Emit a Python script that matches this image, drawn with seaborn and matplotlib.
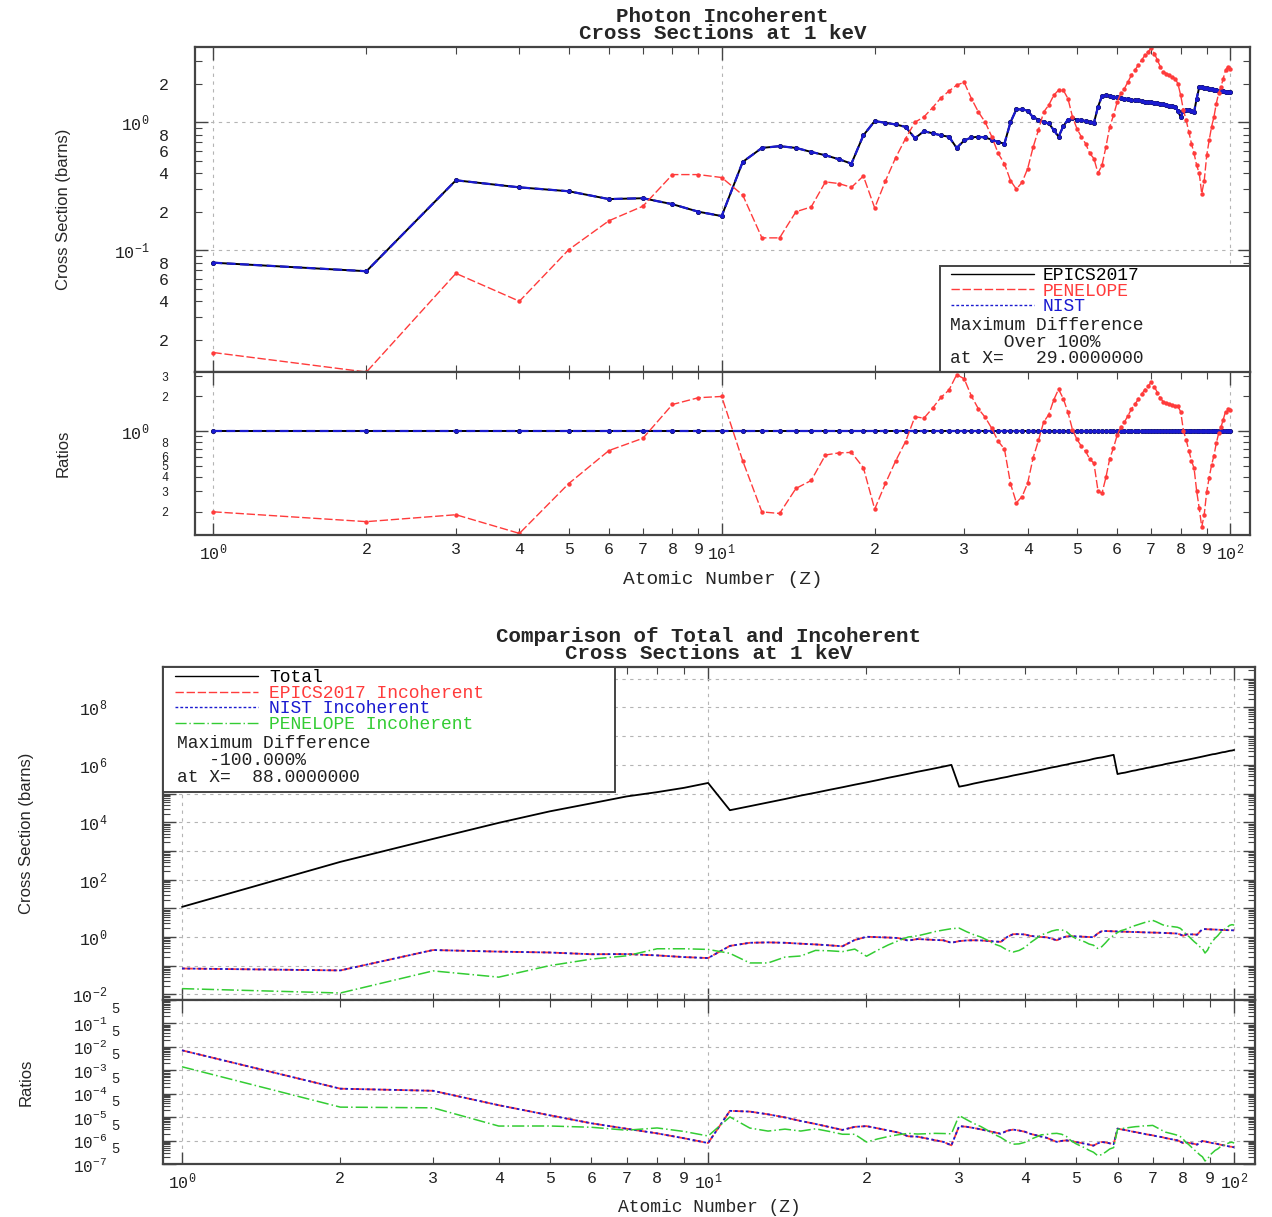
import numpy as np
import pandas as pd
import matplotlib
matplotlib.use('Agg')
import matplotlib.pyplot as plt
import seaborn as sns
from matplotlib.ticker import LogLocator, FuncFormatter, NullFormatter
from matplotlib.lines import Line2D
from matplotlib.patches import Rectangle

# atomic numbers
z = list(range(1, 101))

# incoherent cross sections at 1 keV (barns)
epics_incoh = [0.080, 0.0686, 0.352, 0.31, 0.289, 0.251, 0.255, 0.229, 0.200, 0.185,
               0.49, 0.63, 0.65, 0.63, 0.586, 0.552, 0.514, 0.475, 0.79, 1.02,
               0.99, 0.96, 0.92, 0.75, 0.85, 0.82, 0.79, 0.77, 0.63, 0.72,
               0.76, 0.77, 0.76, 0.73, 0.70, 0.68, 1.00, 1.26, 1.26, 1.23,
               1.09, 1.05, 1.00, 0.98, 0.87, 0.77, 0.93, 1.05, 1.07, 1.05,
               1.04, 1.02, 1.00, 0.99, 1.32, 1.60, 1.62, 1.60, 1.58, 1.56,
               1.55, 1.53, 1.52, 1.50, 1.49, 1.48, 1.46, 1.45, 1.44, 1.43,
               1.42, 1.41, 1.40, 1.38, 1.37, 1.35, 1.34, 1.32, 1.22, 1.10,
               1.23, 1.24, 1.24, 1.23, 1.20, 1.53, 1.87, 1.89, 1.86, 1.85,
               1.83, 1.82, 1.80, 1.78, 1.76, 1.75, 1.74, 1.73, 1.72, 1.71]
nist_incoh = list(epics_incoh)   # identical to EPICS on the plot
penelope_incoh = [0.0159, 0.0112, 0.066, 0.040, 0.101, 0.17, 0.221, 0.39, 0.39, 0.37,
                  0.27, 0.125, 0.125, 0.20, 0.218, 0.342, 0.332, 0.31, 0.38, 0.214,
                  0.348, 0.53, 0.745, 1.00, 1.10, 1.30, 1.55, 1.75, 1.95, 2.05,
                  1.53, 1.20, 1.00, 0.77, 0.57, 0.475, 0.35, 0.30, 0.34, 0.435,
                  0.64, 0.87, 1.20, 1.36, 1.62, 1.78, 1.78, 1.53, 1.10, 0.89,
                  0.77, 0.68, 0.57, 0.52, 0.40, 0.46, 0.64, 0.92, 1.13, 1.44,
                  1.68, 1.83, 2.07, 2.33, 2.55, 2.79, 3.05, 3.33, 3.54, 3.80,
                  3.44, 3.05, 2.70, 2.47, 2.40, 2.33, 2.26, 2.19, 2.00, 1.62,
                  1.24, 1.04, 0.84, 0.68, 0.57, 0.46, 0.40, 0.277, 0.35, 0.55,
                  0.72, 0.92, 1.10, 1.40, 1.68, 1.89, 2.19, 2.55, 2.70, 2.60]

# total cross section, log10(barns)
total_log10 = [1.05, 2.62, 3.42, 3.98, 4.38, 4.66, 4.90, 5.05, 5.20, 5.37,
               4.42, 4.56, 4.69, 4.81, 4.93, 5.03, 5.13, 5.22, 5.31, 5.39,
               5.47, 5.55, 5.62, 5.69, 5.76, 5.82, 5.88, 5.94, 6.00, 5.24,
               5.29, 5.35, 5.40, 5.45, 5.49, 5.54, 5.58, 5.63, 5.67, 5.71,
               5.75, 5.79, 5.83, 5.87, 5.91, 5.94, 5.98, 6.01, 6.05, 6.08,
               6.11, 6.14, 6.17, 6.21, 6.24, 6.26, 6.29, 6.32, 6.35, 5.68,
               5.71, 5.73, 5.76, 5.79, 5.81, 5.84, 5.86, 5.89, 5.91, 5.93,
               5.96, 5.98, 6.00, 6.03, 6.05, 6.07, 6.09, 6.11, 6.13, 6.15,
               6.17, 6.19, 6.21, 6.23, 6.25, 6.27, 6.29, 6.31, 6.33, 6.35,
               6.37, 6.38, 6.40, 6.42, 6.44, 6.45, 6.47, 6.49, 6.50, 6.52]

df = pd.DataFrame({'Z': z, 'epics': epics_incoh, 'nist': nist_incoh,
                   'penelope': penelope_incoh})
df['total'] = 10.0 ** np.array(total_log10)
df['r_epics'] = df['epics'] / df['epics']
df['r_nist'] = df['nist'] / df['epics']
df['r_pen'] = df['penelope'] / df['epics']
df['t_epics'] = df['epics'] / df['total']
df['t_nist'] = df['nist'] / df['total']
df['t_pen'] = df['penelope'] / df['total']

sns.set_style('ticks')
plt.rcParams['font.family'] = ['Liberation Mono', 'DejaVu Sans Mono']
plt.rcParams['mathtext.fontset'] = 'custom'
plt.rcParams['mathtext.rm'] = 'Liberation Mono'
plt.rcParams['mathtext.it'] = 'Liberation Mono:italic'
plt.rcParams['mathtext.bf'] = 'Liberation Mono:bold'

RED = '#ff3b3b'
BLUE = '#1a1ad0'
GREEN = '#33cc33'
FRAME = '#444444'
GRID = '#b4b4b4'


def dec_label(v, pos):
    e = int(round(np.log10(v)))
    return f'10$^{{{e}}}$'


def even_dec_label(v, pos):
    e = int(round(np.log10(v)))
    return f'10$^{{{e}}}$' if e % 2 == 0 else ''


def neg_dec_label(v, pos):
    e = int(round(np.log10(v)))
    return f'10$^{{{e}}}$' if e < 0 else ''


def digit_label(keep):
    def f(v, pos):
        d = int(round(v / 10 ** np.floor(np.log10(v) + 1e-9)))
        return str(d) if d in keep else ''
    return f


def base_axes(ax, xlabels):
    ax.set_xscale('log')
    ax.set_yscale('log')
    ax.set_xlim(0.92, 109.5)
    ax.xaxis.set_major_locator(LogLocator(base=10, numticks=10))
    ax.xaxis.set_minor_locator(LogLocator(base=10, subs=np.arange(2, 10), numticks=20))
    if xlabels:
        ax.xaxis.set_major_formatter(FuncFormatter(dec_label))
        ax.xaxis.set_minor_formatter(FuncFormatter(digit_label(range(2, 10))))
    else:
        ax.xaxis.set_major_formatter(NullFormatter())
        ax.xaxis.set_minor_formatter(NullFormatter())
    ax.tick_params(which='both', direction='in', top=True, right=True,
                   color=FRAME, labelsize=12, labelcolor='#222222')
    ax.tick_params(which='major', length=9, width=1.0)
    ax.tick_params(which='minor', length=5, width=0.8)
    ax.tick_params(axis='x', which='both', pad=5)
    ax.grid(which='major', linestyle=(0, (3, 4)), color=GRID, linewidth=0.8)
    for s in ax.spines.values():
        s.set_color(FRAME)
        s.set_linewidth(1.6)
    ax.set_xlabel('')
    ax.set_ylabel('')


def line(ax, y, color, ls, lw, marker=None, ms=3.5):
    sns.lineplot(data=df, x='Z', y=y, ax=ax, color=color, linestyle=ls,
                 linewidth=lw, marker=marker, markersize=ms,
                 markeredgewidth=0, sort=False, estimator=None)


fig = plt.figure(figsize=(12.72, 12.17), dpi=100)

# ---------------- top figure ----------------
ax1 = fig.add_axes([0.1533, 0.6943, 0.8294, 0.2670])
ax2 = fig.add_axes([0.1533, 0.5604, 0.8294, 0.1339])

line(ax1, 'epics', 'black', '-', 1.4, 'o', 3.6)
line(ax1, 'nist', BLUE, (0, (4, 2)), 1.6, 'o', 3.2)
line(ax1, 'penelope', RED, (0, (6, 2)), 1.0, 'o', 3.2)
base_axes(ax1, False)
ax1.set_ylim(0.0112, 3.86)
ax1.yaxis.set_major_formatter(FuncFormatter(dec_label))
ax1.yaxis.set_minor_formatter(FuncFormatter(digit_label({2, 4, 6, 8})))
ax1.tick_params(axis='y', which='major', pad=33)
ax1.tick_params(axis='y', which='minor', pad=19)
ax1.set_ylabel('Cross Section (barns)', family='Liberation Sans', fontsize=12)
ax1.yaxis.set_label_coords(-0.118, 0.5)
ax1.set_title('Photon Incoherent\nCross Sections at 1 keV', fontsize=15,
              fontweight='bold', linespacing=0.85, pad=6)

line(ax2, 'r_epics', 'black', '-', 1.4, 'o', 3.6)
line(ax2, 'r_nist', BLUE, (0, (4, 2)), 1.6, 'o', 3.2)
line(ax2, 'r_pen', RED, (0, (6, 2)), 1.0, 'o', 3.2)
base_axes(ax2, True)
ax2.set_ylim(0.125, 3.26)
ax2.yaxis.set_major_formatter(FuncFormatter(dec_label))
ax2.yaxis.set_minor_formatter(FuncFormatter(digit_label({2, 3, 4, 5, 6, 8})))
ax2.tick_params(axis='y', which='major', pad=33)
ax2.tick_params(axis='y', which='minor', pad=19, labelsize=8.5)
ax2.set_ylabel('Ratios', family='Liberation Sans', fontsize=12)
ax2.yaxis.set_label_coords(-0.118, 0.5)
ax2.set_xlabel('Atomic Number (Z)', fontsize=14, labelpad=6)

# legend box, top
ax1.add_patch(Rectangle((0.706, 0.0), 0.294, 0.326, transform=ax1.transAxes,
                        facecolor='white', edgecolor=FRAME, linewidth=1.4, zorder=8))
h_top = [Line2D([], [], color='black', lw=1.0),
         Line2D([], [], color=RED, lw=1.0, ls=(0, (6, 2))),
         Line2D([], [], color=BLUE, lw=1.0, ls=(0, (2, 1.5)))]
leg = ax1.legend(h_top, ['EPICS2017', 'PENELOPE', 'NIST'], loc='upper left',
                 bbox_to_anchor=(0.713, 0.333), frameon=False, fontsize=13,
                 handlelength=4.6, handletextpad=0.5, labelspacing=-0.1,
                 borderpad=0.2, borderaxespad=0,
                 labelcolor=['black', RED, BLUE])
leg.set_zorder(9)
for txt, yy in [('Maximum Difference', 0.142), ('     Over 100%', 0.092),
                ('at X=   29.0000000', 0.043)]:
    ax1.text(0.716, yy, txt, transform=ax1.transAxes, fontsize=13,
             va='center', ha='left', color='#222222', zorder=10)

# ---------------- bottom figure ----------------
ax3 = fig.add_axes([0.1281, 0.1783, 0.8585, 0.2736])
ax4 = fig.add_axes([0.1281, 0.0435, 0.8585, 0.1348])

line(ax3, 'total', 'black', '-', 1.3)
line(ax3, 'epics', RED, (0, (6, 2)), 1.3)
line(ax3, 'nist', BLUE, (0, (1.5, 1.5)), 1.3)
line(ax3, 'penelope', GREEN, (0, (8, 2, 1, 2)), 1.1)
base_axes(ax3, False)
ax3.set_ylim(10 ** -2.195, 10 ** 9.41)
ax3.yaxis.set_major_locator(LogLocator(base=10, numticks=30))
ax3.yaxis.set_minor_locator(LogLocator(base=10, subs=np.arange(2, 10), numticks=30))
ax3.yaxis.set_major_formatter(FuncFormatter(even_dec_label))
ax3.yaxis.set_minor_formatter(NullFormatter())
ax3.tick_params(axis='y', which='both', pad=40)
ax3.set_ylabel('Cross Section (barns)', family='Liberation Sans', fontsize=12)
ax3.yaxis.set_label_coords(-0.118, 0.5)
ax3.set_title('Comparison of Total and Incoherent\nCross Sections at 1 keV',
              fontsize=15, fontweight='bold', linespacing=0.85, pad=6)

line(ax4, 't_epics', RED, (0, (6, 2)), 1.3)
line(ax4, 't_nist', BLUE, (0, (1.5, 1.5)), 1.3)
line(ax4, 't_pen', GREEN, (0, (8, 2, 1, 2)), 1.1)
base_axes(ax4, True)
ax4.set_ylim(1e-7, 1.0)
ax4.yaxis.set_major_locator(LogLocator(base=10, numticks=30))
ax4.yaxis.set_minor_locator(LogLocator(base=10, subs=np.arange(2, 10), numticks=30))
ax4.yaxis.set_major_formatter(FuncFormatter(neg_dec_label))
ax4.yaxis.set_minor_formatter(FuncFormatter(digit_label({5})))
ax4.tick_params(axis='y', which='major', pad=40, labelsize=11.5)
ax4.tick_params(axis='y', which='minor', pad=31, labelsize=10)
ax4.set_ylabel('Ratios', family='Liberation Sans', fontsize=12)
ax4.yaxis.set_label_coords(-0.118, 0.5)
ax4.set_xlabel('Atomic Number (Z)', fontsize=13, labelpad=5)

# legend box, bottom
ax3.add_patch(Rectangle((0.0, 0.625), 0.414, 0.375, transform=ax3.transAxes,
                        facecolor='white', edgecolor=FRAME, linewidth=1.4, zorder=8))
h_bot = [Line2D([], [], color='black', lw=1.0),
         Line2D([], [], color=RED, lw=1.0, ls=(0, (6, 2))),
         Line2D([], [], color=BLUE, lw=1.0, ls=(0, (2, 1.5))),
         Line2D([], [], color=GREEN, lw=1.0, ls=(0, (8, 2, 1, 2)))]
leg2 = ax3.legend(h_bot, ['Total', 'EPICS2017 Incoherent', 'NIST Incoherent',
                          'PENELOPE Incoherent'], loc='upper left',
                  bbox_to_anchor=(0.008, 1.004), frameon=False, fontsize=13,
                  handlelength=4.6, handletextpad=0.6, labelspacing=-0.08,
                  borderpad=0.2, borderaxespad=0,
                  labelcolor=['black', RED, BLUE, GREEN])
leg2.set_zorder(9)
for txt, yy in [('Maximum Difference', 0.769), ('   -100.000%', 0.718),
                ('at X=  88.0000000', 0.667)]:
    ax3.text(0.013, yy, txt, transform=ax3.transAxes, fontsize=13,
             va='center', ha='left', color='#222222', zorder=10)

fig.savefig('out.png', dpi=100)
